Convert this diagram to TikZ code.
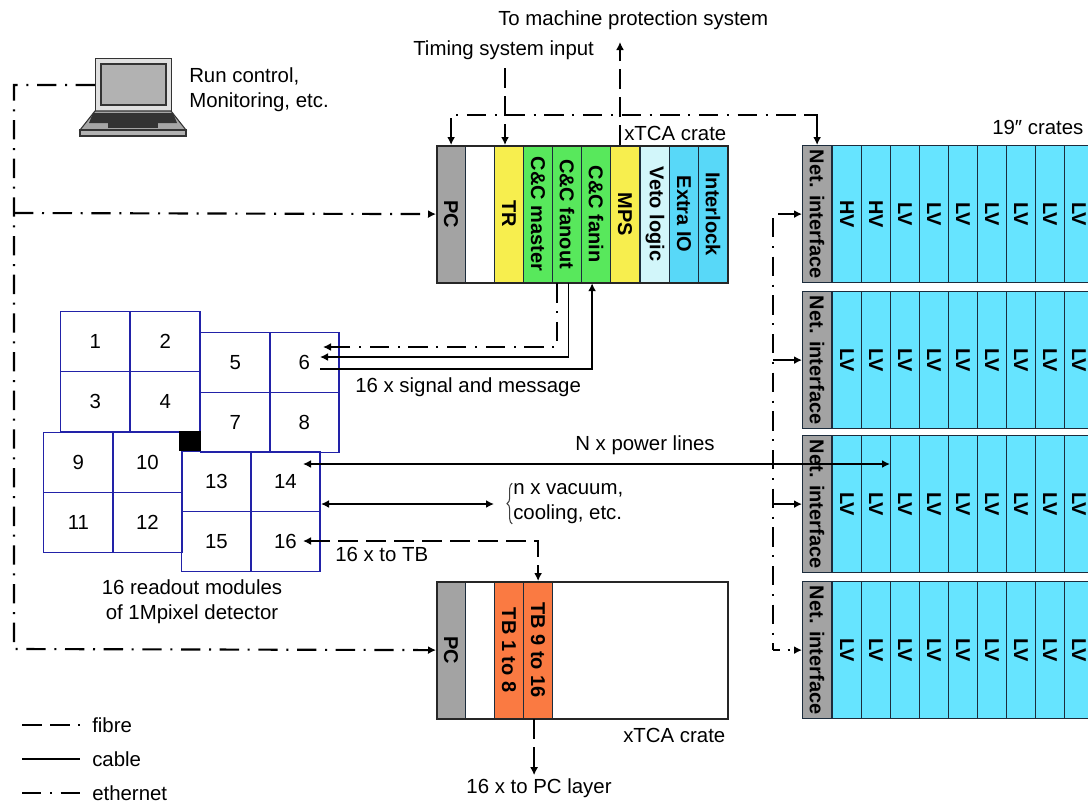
\documentclass[tikz,border=0pt]{standalone}
\usepackage{fontspec}
\setmainfont{Liberation Sans}
\usetikzlibrary{positioning,arrows.meta,calc,decorations.pathreplacing}
\definecolor{slotgray}{HTML}{A3A3A3}
\definecolor{slotyellow}{HTML}{F7EE4E}
\definecolor{slotgreen}{HTML}{58E85C}
\definecolor{slotpale}{HTML}{D2F6FA}
\definecolor{slotblue}{HTML}{58D8F8}
\definecolor{slotcyan}{HTML}{66E4FF}
\definecolor{slotorange}{HTML}{FA7A42}
\definecolor{modblue}{HTML}{2222A8}
\definecolor{cratedark}{HTML}{1C2C3C}
\newcommand{\vtxt}[1]{\rotatebox{-90}{#1}}

\begin{document}
\begin{tikzpicture}[
    x=0.75pt, y=-0.75pt,
    font=\fontsize{15.3}{18.75}\selectfont,
    slot/.style={draw=cratedark, line width=0.9pt, anchor=north west, inner sep=0pt, minimum width=21.75pt, minimum height=102.75pt, font=\fontsize{15}{18}\selectfont\bfseries},
    crate/.style={draw=black!85, line width=1.5pt, anchor=north west, inner sep=0pt, minimum width=218.5pt, minimum height=102.75pt},
    modcell/.style={draw=modblue, line width=1.1pt, anchor=north west, inner sep=0pt, minimum width=52pt, minimum height=44.8pt},
    lbl/.style={anchor=west, inner sep=0pt, align=left},
    fibre/.style={line width=1.6pt, dash pattern=on 15pt off 6pt},
    cable/.style={line width=1.4pt},
    ethernet/.style={line width=1.6pt, dash pattern=on 14.5pt off 6.5pt on 1.5pt off 6.5pt}
]
\useasboundingbox (0,0) rectangle (1088,804);
\clip (0,0) rectangle (1088,804);

% top crate
\node[slot, fill=slotgray] (pca) at (436,145) {\vtxt{PC}};
\node[slot, fill=white] (blanka) at (465,145) {};
\node[slot, fill=slotyellow] (tr) at (494,145) {\vtxt{TR}};
\node[slot, fill=slotgreen] (master) at (523,145) {\vtxt{C\&C master}};
\node[slot, fill=slotgreen] (fanout) at (552,145) {\vtxt{C\&C fanout}};
\node[slot, fill=slotgreen] (fanin) at (581,145) {\vtxt{C\&C fanin}};
\node[slot, fill=slotyellow] (mps) at (610,145) {\vtxt{MPS}};
\node[slot, fill=slotpale] (veto) at (640,145) {\vtxt{Veto logic}};
\node[slot, fill=slotblue] (extra) at (669,145) {\vtxt{Extra IO}};
\node[slot, fill=slotblue] (interlock) at (698,145) {\vtxt{Interlock}};
\node[crate] (cratea) at (436,145) {};
\node[lbl] (xtcaa) at (624,133) {xTCA crate};

% bottom crate
\node[slot, fill=slotgray] (pcb) at (436,581) {\vtxt{PC}};
\node[slot, fill=white, draw=none] (blankb) at (465,581) {};
\node[slot, fill=slotorange] (tbone) at (494,581) {\vtxt{TB 1 to 8}};
\node[slot, fill=slotorange] (tbnine) at (523,581) {\vtxt{TB 9 to 16}};
\node[crate] (crateb) at (436,581) {};
\node[lbl] (xtcab) at (623,735) {xTCA crate};

% 19 inch crates
\foreach \c/\y in {1/145,2/291,3/435,4/581} {
  \node[slot, fill=slotgray] (net\c) at (802,\y) {\vtxt{Net. interface}};
  \foreach \s/\x in {1/832,2/861,3/890,4/919,5/948,6/977,7/1006,8/1035,9/1064} {
    \node[slot, fill=slotcyan] (rack\c-\s) at (\x,\y) {\vtxt{\ifnum\c\s<13 HV\else LV\fi}};
  }
}
\node[lbl] (inchlabel) at (992,127) {19″ crates};

% detector modules
\foreach \n/\x/\y in {1/60/311,2/130/311,3/60/371,4/130/371,
                      5/200/332,6/269/332,7/200/392,8/269/392,
                      9/43/432,10/112/432,11/43/492,12/112/492,
                      13/181/451,14/250/451,15/181/511,16/250/511} {
  \node[modcell] (mod\n) at (\x,\y) {\n};
}
\fill[black] (179,431) rectangle (201,451);
\node[align=center, inner sep=0pt] (modlabel) at (192,602) {16 readout modules\\of 1Mpixel detector};

% laptop
\node[draw=black!80, fill=black!12, line width=1pt, anchor=north west, inner sep=0pt, minimum width=57pt, minimum height=39.5pt] (laptop) at (95,58) {};
\draw[black!80, fill=black!30, line width=1pt] (101,64) rectangle (166,105);
\draw[black!80, fill=black!35, line width=0.8pt] (95,111) -- (171,111) -- (186,130) -- (80,130) -- cycle;
\fill[black!80] (93,113) -- (173,113) -- (177,123) -- (89,123) -- cycle;
\fill[black!80] (108,123) rectangle (158,128);
\draw[black!80, fill=black!30, line width=0.8pt] (80,130) rectangle (186,136);
\node[lbl] (runlabel) at (189,90) {Run control,\\Monitoring, etc.};

% ethernet
\coordinate (ethbot) at (14,649);
\coordinate (ethmid) at (14,213);
\coordinate (ethright) at (773,218);
\coordinate (sigeth) at (323,347);
\draw[ethernet, -{Latex[length=6pt,width=6pt]}] (laptop.west) -| (ethbot) -- (pcb.west);
\draw[ethernet, -{Latex[length=6pt,width=6pt]}] (ethmid) -- (pca.west);
\draw[ethernet, {Latex[length=6pt,width=6pt]}-] (pca.north) -- ++(0,-30) -- ($(net1.north)+(0,-30)$);
\draw[cable, line width=1.6pt, -{Latex[length=6pt,width=6pt]}] ($(net1.north)+(-12,-30)$) -| (net1.north);
\draw[ethernet] (ethright) -- (ethright |- net4.west);
\draw[cable, -{Latex[length=6pt,width=6pt]}] ([xshift=-18pt]net1.west) -- (net1.west);
\draw[cable, -{Latex[length=6pt,width=6pt]}] ([xshift=-21.75pt]net2.west) -- (net2.west);
\draw[cable, -{Latex[length=6pt,width=6pt]}] ([xshift=-21.75pt]net3.west) -- (net3.west);
\draw[ethernet, -{Latex[length=6pt,width=6pt]}, dash pattern=on 5pt off 6pt on 1.5pt off 3pt on 1.5pt off 3pt] ([xshift=-21.75pt]net4.west) -- (net4.west);
\draw[ethernet, -{Latex[length=6pt,width=6pt]}] ([xshift=-7.5pt]fanout.south) |- (sigeth);

% fibre
\node[lbl] (timinglabel) at (413,50) {Timing system input};
\node[lbl] (mpslabel) at (498,20) {To machine protection system};
\coordinate (timingstart) at (505,68);
\coordinate (mpsend) at (620,42);
\coordinate (tbend) at (303,541);
\draw[fibre, -{Latex[length=6pt,width=6pt]}] (timingstart) -- (timingstart |- tr.north);
\draw[fibre, -{Latex[length=6pt,width=6pt]}] (mpsend |- mps.north) -- (mpsend);
\draw[fibre, {Latex[length=6pt,width=6pt]}-{Latex[length=6pt,width=6pt]}] (tbend) -| (tbnine.north);
\node[lbl] (tblabel) at (335,554) {16 x to TB};
\node[inner sep=0pt] (pclabel) at (539,788) {16 x to PC layer};
\draw[fibre, -{Latex[length=6pt,width=6pt]}] ([xshift=-3pt]tbnine.south) -- ++(0,56);

% cables
\coordinate (signalin) at (320,357);
\coordinate (signalout) at (320,369);
\coordinate (powerl) at (303,464);
\coordinate (powerr) at (890,464);
\coordinate (vacl) at (321,504);
\coordinate (vacr) at (494,504);
\draw[cable, -{Latex[length=6pt,width=6pt]}] ([xshift=1pt]fanout.south) |- (signalin);
\draw[cable, -{Latex[length=6pt,width=6pt]}] (signalout) -| ([xshift=-3pt]fanin.south);
\node[lbl] (signallabel) at (355,387) {16 x signal and message};
\draw[cable, {Latex[length=6pt,width=6pt]}-{Latex[length=6pt,width=6pt]}] (powerl) -- (powerr);
\node[lbl] (powerlabel) at (575,445) {N x power lines};
\draw[cable, {Latex[length=6pt,width=6pt]}-{Latex[length=6pt,width=6pt]}] (vacl) -- (vacr);
\node[lbl] (vaclabel) at (513,503.5) {n x vacuum,\\cooling, etc.};
\draw[line width=0.8pt, black!75, decorate, decoration={brace, amplitude=4pt}] ([xshift=-0.5pt]vaclabel.south west) -- ([xshift=-0.5pt]vaclabel.north west);

% legend
\node[lbl] (legfibre) at (92,725) {fibre};
\node[lbl] (legcable) at (92,759) {cable};
\node[lbl] (legeth) at (92,793) {ethernet};
\coordinate (fibrestart) at (22,725);
\coordinate (cablestart) at (22,759);
\coordinate (ethstart) at (22,793);
\draw[fibre] (fibrestart) -- ([xshift=-9pt]legfibre.west);
\draw[cable] (cablestart) -- ([xshift=-9pt]legcable.west);
\draw[ethernet] (ethstart) -- ([xshift=-9pt]legeth.west);
\end{tikzpicture}
\end{document}
